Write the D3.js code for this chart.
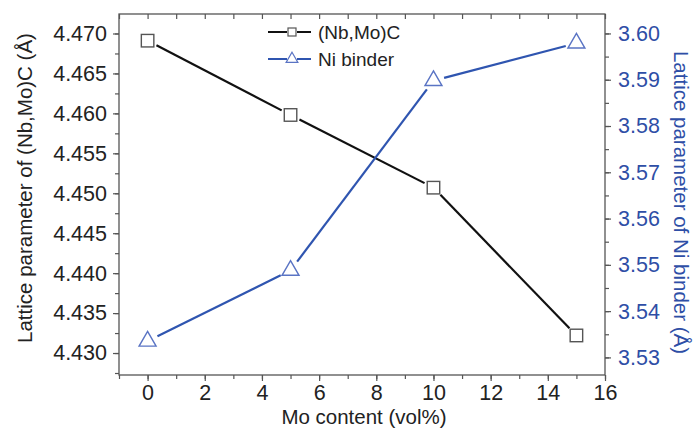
<!DOCTYPE html>
<html><head><meta charset="utf-8">
<script src="https://cdn.jsdelivr.net/npm/d3@7"></script>
<style>body{margin:0;background:#fff;}text{font-family:"Liberation Sans",Arial,sans-serif;}</style>
</head><body><svg id="c" width="694" height="437"></svg>
<script>
const moContent = [0, 5, 10, 15];
const carbideLattice = [4.4691, 4.4598, 4.4507, 4.4322];
const niLattice = [3.5335, 3.5488, 3.5898, 3.5979];
const xTicks = [0, 2, 4, 6, 8, 10, 12, 14, 16];
const leftTicks = [4.430, 4.435, 4.440, 4.445, 4.450, 4.455, 4.460, 4.465, 4.470];
const rightTicks = [3.53, 3.54, 3.55, 3.56, 3.57, 3.58, 3.59, 3.60];
const seriesNames = ["(Nb,Mo)C", "Ni binder"];

const svg = d3.select("#c");
const L = 119, R = 605, T = 14, B = 375;
const x = d3.scaleLinear().domain([-1, 16]).range([L, R]);
const yL = d3.scaleLinear().domain([4.42725, 4.47244]).range([B, T]);
const yR = d3.scaleLinear().domain([3.5262, 3.6042]).range([B, T]);
const axisCol = "#555";
const blue = "#2f55b0", blueMark = "#5a74c4", blueText = "#2e4ea6";
const tickFont = "21.5px", titleFont = "20.5px";

svg.append("rect").attr("x", L).attr("y", T).attr("width", R - L).attr("height", B - T)
  .attr("fill", "none").attr("stroke", axisCol).attr("stroke-width", 1.3);

function styleAxis(g, col) {
  g.select(".domain").remove();
  g.selectAll("line").attr("stroke", axisCol).attr("stroke-width", 1.2);
  g.selectAll("text").attr("fill", col || "#222").style("font-size", tickFont);
}
const xMinor = d3.range(-1, 16.01, 1);
svg.append("g").attr("transform", `translate(0,${B})`)
  .call(d3.axisBottom(x).tickValues(xMinor).tickSize(4).tickFormat(""))
  .call(g => styleAxis(g));
svg.append("g").attr("transform", `translate(0,${B})`)
  .call(d3.axisBottom(x).tickValues(xTicks).tickSize(6).tickPadding(4).tickFormat(d3.format("d")))
  .call(g => styleAxis(g));
svg.append("g").attr("transform", `translate(0,${T})`)
  .call(d3.axisBottom(x).tickValues(xMinor).tickSize(5).tickFormat(""))
  .call(g => styleAxis(g));
const lMinor = d3.range(4.4275, 4.4724, 0.0025);
svg.append("g").attr("transform", `translate(${L},0)`)
  .call(d3.axisLeft(yL).tickValues(lMinor).tickSize(4).tickFormat(""))
  .call(g => styleAxis(g));
svg.append("g").attr("transform", `translate(${L},0)`)
  .call(d3.axisLeft(yL).tickValues(leftTicks).tickSize(6).tickPadding(6).tickFormat(d3.format(".3f")))
  .call(g => styleAxis(g));
const rMinor = d3.range(3.53, 3.6042, 0.005);
svg.append("g").attr("transform", `translate(${R},0)`)
  .call(d3.axisRight(yR).tickValues(rMinor).tickSize(4).tickFormat(""))
  .call(g => styleAxis(g));
svg.append("g").attr("transform", `translate(${R},0)`)
  .call(d3.axisRight(yR).tickValues(rightTicks).tickSize(6).tickPadding(7).tickFormat(d3.format(".2f")))
  .call(g => styleAxis(g, blueText));

svg.append("text").attr("x", (L + R) / 2 + 2).attr("y", 424).attr("text-anchor", "middle")
  .style("font-size", titleFont).attr("fill", "#222").text("Mo content (vol%)");
svg.append("text").attr("transform", `translate(32,188) rotate(-90)`).attr("text-anchor", "middle")
  .style("font-size", titleFont).attr("fill", "#222").text("Lattice parameter of (Nb,Mo)C (Å)");
svg.append("text").attr("transform", `translate(674,${(T + B) / 2 + 8}) rotate(90)`).attr("text-anchor", "middle")
  .style("font-size", titleFont).attr("fill", blueText).text("Lattice parameter of Ni binder (Å)");

const d1 = moContent.map((m, i) => [m, carbideLattice[i]]);
const d2 = moContent.map((m, i) => [m, niLattice[i]]);
const sq = 12.5, triSize = 125;
function gapLine(data, ys, col, gap) {
  for (let i = 0; i < data.length - 1; i++) {
    const x1 = x(data[i][0]), y1 = ys(data[i][1]), x2 = x(data[i + 1][0]), y2 = ys(data[i + 1][1]);
    const len = Math.hypot(x2 - x1, y2 - y1), ux = (x2 - x1) / len, uy = (y2 - y1) / len;
    svg.append("line").attr("x1", x1 + ux * gap).attr("y1", y1 + uy * gap)
      .attr("x2", x2 - ux * gap).attr("y2", y2 - uy * gap)
      .attr("stroke", col).attr("stroke-width", 2.2);
  }
}
gapLine(d1, yL, "#111", 10);
gapLine(d2, yR, blue, 11);
svg.selectAll(".sq").data(d1).enter().append("rect")
  .attr("x", d => x(d[0]) - sq / 2).attr("y", d => yL(d[1]) - sq / 2)
  .attr("width", sq).attr("height", sq).attr("fill", "none").attr("stroke", "#555").attr("stroke-width", 1.4);
const tri = d3.symbol().type(d3.symbolTriangle).size(triSize);
svg.selectAll(".tri").data(d2).enter().append("path").attr("d", tri)
  .attr("transform", d => `translate(${x(d[0])},${yR(d[1])})`)
  .attr("fill", "none").attr("stroke", blueMark).attr("stroke-width", 1.4);

const lg = svg.append("g");
[[32, "#111", "sq"], [59, blue, "tri"]].forEach(([yy, col, m], i) => {
  lg.append("line").attr("x1", 268).attr("x2", 287).attr("y1", yy).attr("y2", yy).attr("stroke", col).attr("stroke-width", 2);
  lg.append("line").attr("x1", 297).attr("x2", 311).attr("y1", yy).attr("y2", yy).attr("stroke", col).attr("stroke-width", 2);
  if (m === "sq") lg.append("rect").attr("x", 288).attr("y", yy - 4).attr("width", 8).attr("height", 8).attr("fill", "none").attr("stroke", "#555").attr("stroke-width", 1.2);
  else lg.append("path").attr("d", d3.symbol().type(d3.symbolTriangle).size(60)()).attr("transform", `translate(292,${yy})`).attr("fill", "none").attr("stroke", blueMark).attr("stroke-width", 1.2);
  lg.append("text").attr("x", 318).attr("y", yy + 6.5).style("font-size", "19px").attr("fill", "#222").text(seriesNames[i]);
});
</script></body></html>
